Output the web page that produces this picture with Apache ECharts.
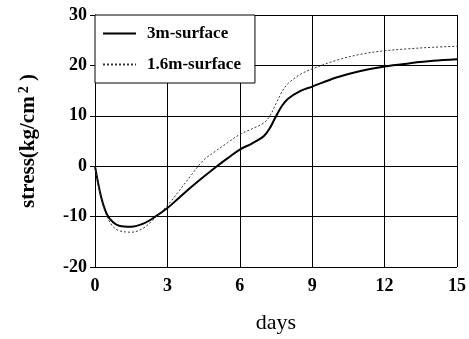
<!DOCTYPE html>
<html><head><meta charset="utf-8">
<script src="https://cdn.jsdelivr.net/npm/echarts@6/dist/echarts.min.js"></script>
<style>html,body{margin:0;padding:0;background:#fff}#c{width:469px;height:339px}</style>
</head><body><div id="c"></div>
<script>
const days = [0, 0.25, 0.5, 0.75, 1, 1.5, 2, 2.5, 3, 3.5, 4, 4.5, 5, 5.5, 6, 6.5, 7, 7.25, 7.5, 7.75, 8, 8.5, 9, 10, 11, 12, 13, 14, 15];
const surface3m = [0, -6, -9.6, -11.1, -11.8, -12.0, -11.4, -10.0, -8.3, -6.2, -4.1, -2.1, -0.2, 1.6, 3.3, 4.5, 6.0, 7.6, 9.9, 12.0, 13.4, 14.9, 15.8, 17.6, 18.9, 19.8, 20.4, 20.9, 21.2];
const surface16m = [0, -6.3, -10.0, -12.0, -12.8, -13.1, -12.3, -10.2, -7.8, -4.8, -1.7, 1.2, 3.0, 4.7, 6.3, 7.4, 8.6, 10.0, 12.4, 14.8, 16.4, 18.2, 19.3, 21.0, 22.2, 22.9, 23.3, 23.6, 23.8];
const seriesNames = ['3m-surface', '1.6m-surface'];
const xTicks = [0, 3, 6, 9, 12, 15];
const yTicks = [-20, -10, 0, 10, 20, 30];

const font = 'Liberation Serif';
const chart = echarts.init(document.getElementById('c'), null, {renderer: 'canvas'});
chart.setOption({
  animation: false,
  backgroundColor: '#fff',
  grid: {left: 95, right: 11, top: 15, bottom: 69, containLabel: false},
  legend: {
    orient: 'vertical', left: 95, top: 15,
    padding: [10, 14, 10, 7], itemGap: 14,
    itemWidth: 33, itemHeight: 17,
    backgroundColor: '#fff', borderColor: '#000', borderWidth: 1,
    itemStyle: {opacity: 0},
    textStyle: {fontFamily: font, fontWeight: 'bold', fontSize: 17, color: '#000', padding: [0, 0, 0, 6]},
    data: seriesNames
  },
  xAxis: {
    type: 'value', min: xTicks[0], max: xTicks[xTicks.length - 1], interval: 3,
    name: 'days', nameLocation: 'middle', nameGap: 45,
    nameTextStyle: {fontFamily: font, fontSize: 22, color: '#000'},
    axisLine: {lineStyle: {color: '#000', width: 1}},
    axisTick: {show: false},
    axisLabel: {fontFamily: font, fontWeight: 'bold', fontSize: 18, color: '#000', margin: 10},
    splitLine: {show: true, lineStyle: {color: '#000', width: 1}}
  },
  yAxis: {
    type: 'value', min: yTicks[0], max: yTicks[yTicks.length - 1], interval: 10,
    name: 'stress(kg/cm{s|2} )', nameLocation: 'middle', nameGap: 54, nameRotate: 90,
    nameTextStyle: {fontFamily: font, fontWeight: 'bold', fontSize: 21, color: '#000',
      rich: {s: {fontFamily: font, fontWeight: 'bold', fontSize: 14, color: '#000', verticalAlign: 'top', padding: [0, 0, 10, 3]}}},
    axisLine: {show: true, lineStyle: {color: '#000', width: 1}},
    axisTick: {show: true, inside: false, length: 5, lineStyle: {color: '#000'}},
    axisLabel: {fontFamily: font, fontWeight: 'bold', fontSize: 18, color: '#000', margin: 8},
    splitLine: {show: true, lineStyle: {color: '#000', width: 1}}
  },
  series: [
    {name: seriesNames[0], type: 'line', smooth: 0.35, symbol: 'none',
     lineStyle: {color: '#000', width: 2}, itemStyle: {color: '#000'},
     data: days.map((d, i) => [d, surface3m[i]])},
    {name: seriesNames[1], type: 'line', smooth: 0.35, symbol: 'none',
     lineStyle: {color: '#333', width: 1, type: [2, 2]}, itemStyle: {color: '#333'},
     data: days.map((d, i) => [d, surface16m[i]])}
  ]
});
</script></body></html>
